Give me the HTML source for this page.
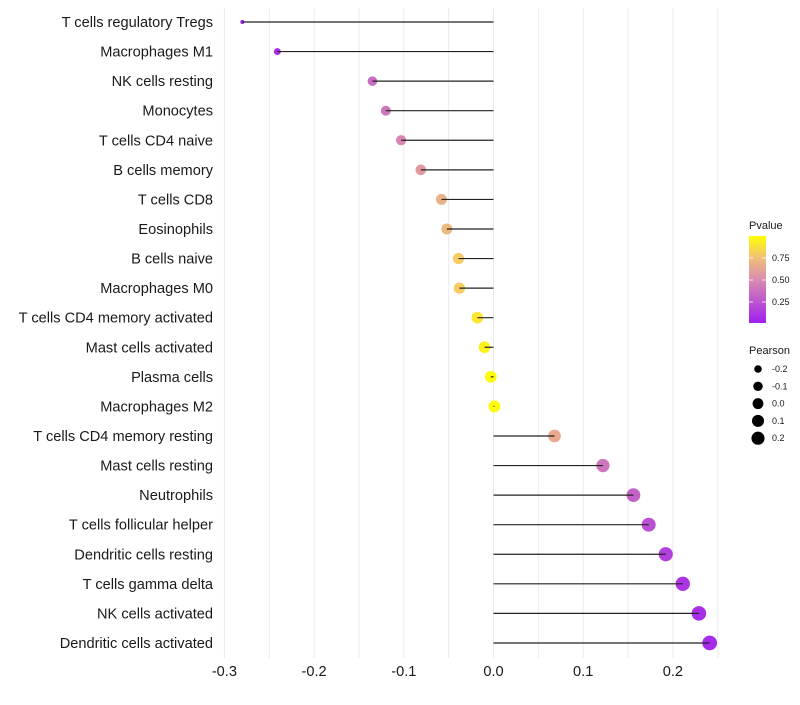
<!DOCTYPE html>
<html><head><meta charset="utf-8"><style>
body{margin:0;background:#fff;font-family:"Liberation Sans",sans-serif}
</style></head><body>
<svg id="c" width="800" height="700" xmlns="http://www.w3.org/2000/svg"></svg>
<script>
const categories=["T cells regulatory  Tregs","Macrophages M1","NK cells resting","Monocytes","T cells CD4 naive","B cells memory","T cells CD8","Eosinophils","B cells naive","Macrophages M0","T cells CD4 memory activated","Mast cells activated","Plasma cells","Macrophages M2","T cells CD4 memory resting","Mast cells resting","Neutrophils","T cells follicular helper","Dendritic cells resting","T cells gamma delta","NK cells activated","Dendritic cells activated"];
const pearson=[-0.280,-0.241,-0.135,-0.120,-0.103,-0.081,-0.058,-0.052,-0.039,-0.038,-0.018,-0.010,-0.003,0.001,0.068,0.122,0.156,0.173,0.192,0.211,0.229,0.241];
const pvalue=[0.01,0.05,0.35,0.40,0.47,0.57,0.68,0.72,0.82,0.82,0.91,0.95,0.98,0.99,0.65,0.40,0.30,0.22,0.15,0.10,0.07,0.05];
const xTicks=[-0.3,-0.2,-0.1,0.0,0.1,0.2];
const xTickLabels=["-0.3","-0.2","-0.1","0.0","0.1","0.2"];
const pTicks=[0.25,0.5,0.75];
const sizeTicks=[-0.2,-0.1,0.0,0.1,0.2];
const NS="http://www.w3.org/2000/svg";
const svg=document.getElementById('c');
function X(v){return 493.5+v*897;}
function Y(i){return 22+i*29.57;}
function R(v){return 2+Math.sqrt(Math.max(0,v+0.28))*7.4;}
function col(p){
  const stops=[[0,[160,32,240]],[0.5,[218,140,175]],[0.8,[245,200,110]],[1,[255,255,0]]];
  for(let k=1;k<stops.length;k++){if(p<=stops[k][0]){const a=stops[k-1],b=stops[k];const t=(p-a[0])/(b[0]-a[0]);
    return 'rgb('+a[1].map((c,j)=>Math.round(c+(b[1][j]-c)*t)).join(',')+')';}}
  return 'rgb(255,255,0)';
}
function el(tag,attrs,parent){const e=document.createElementNS(NS,tag);for(const k in attrs)e.setAttribute(k,attrs[k]);(parent||svg).appendChild(e);return e;}
for(let v=-0.3;v<=0.27;v+=0.05){const g=el('line',{x1:X(v),x2:X(v),y1:8,y2:658,stroke:'#ebebeb','stroke-width':1});

}
categories.forEach((c,i)=>{
  const p=el('circle',{cx:X(pearson[i]),cy:Y(i),r:R(pearson[i]),fill:col(pvalue[i])});
  
  
  const s=el('line',{x1:X(0),x2:X(pearson[i]),y1:Y(i),y2:Y(i),stroke:'#222','stroke-width':1.2});
  
  
  const t=el('text',{x:213,y:Y(i)+5,'text-anchor':'end','font-size':14.6,fill:'#1a1a1a'});
  t.textContent=c;
  
  
});
xTicks.forEach((v,i)=>{const t=el('text',{x:X(v),y:676,'text-anchor':'middle','font-size':14.6,fill:'#1a1a1a'});t.textContent=xTickLabels[i];

});
const defs=el('defs',{});const lg=el('linearGradient',{id:'g',x1:0,y1:1,x2:0,y2:0},defs);
[0,0.25,0.5,0.75,1].forEach(o=>el('stop',{offset:o,'stop-color':col(o)},lg));
const lt=el('text',{x:749,y:229,'font-size':11,fill:'#1a1a1a'});lt.textContent='Pvalue';


const bar=el('rect',{x:749,y:236,width:17,height:87,fill:'url(#g)'});


function PY(p){return 324-p*88;}
pTicks.forEach(p=>{el('line',{x1:749,x2:753,y1:PY(p),y2:PY(p),stroke:'#fff','stroke-width':0.8});el('line',{x1:762,x2:766,y1:PY(p),y2:PY(p),stroke:'#fff','stroke-width':0.8});
const t=el('text',{x:772,y:PY(p)+3,'font-size':9,fill:'#1a1a1a'});t.textContent=p.toFixed(2);

});
const st=el('text',{x:749,y:354,'font-size':11,fill:'#1a1a1a'});st.textContent='Pearson';


sizeTicks.forEach((v,i)=>{const y=369+i*17.3;el('circle',{cx:758,cy:y,r:R(v)*0.92,fill:'#000'});
const t=el('text',{x:772,y:y+3,'font-size':9,fill:'#1a1a1a'});t.textContent=v.toFixed(1);

});
</script>
</body></html>
